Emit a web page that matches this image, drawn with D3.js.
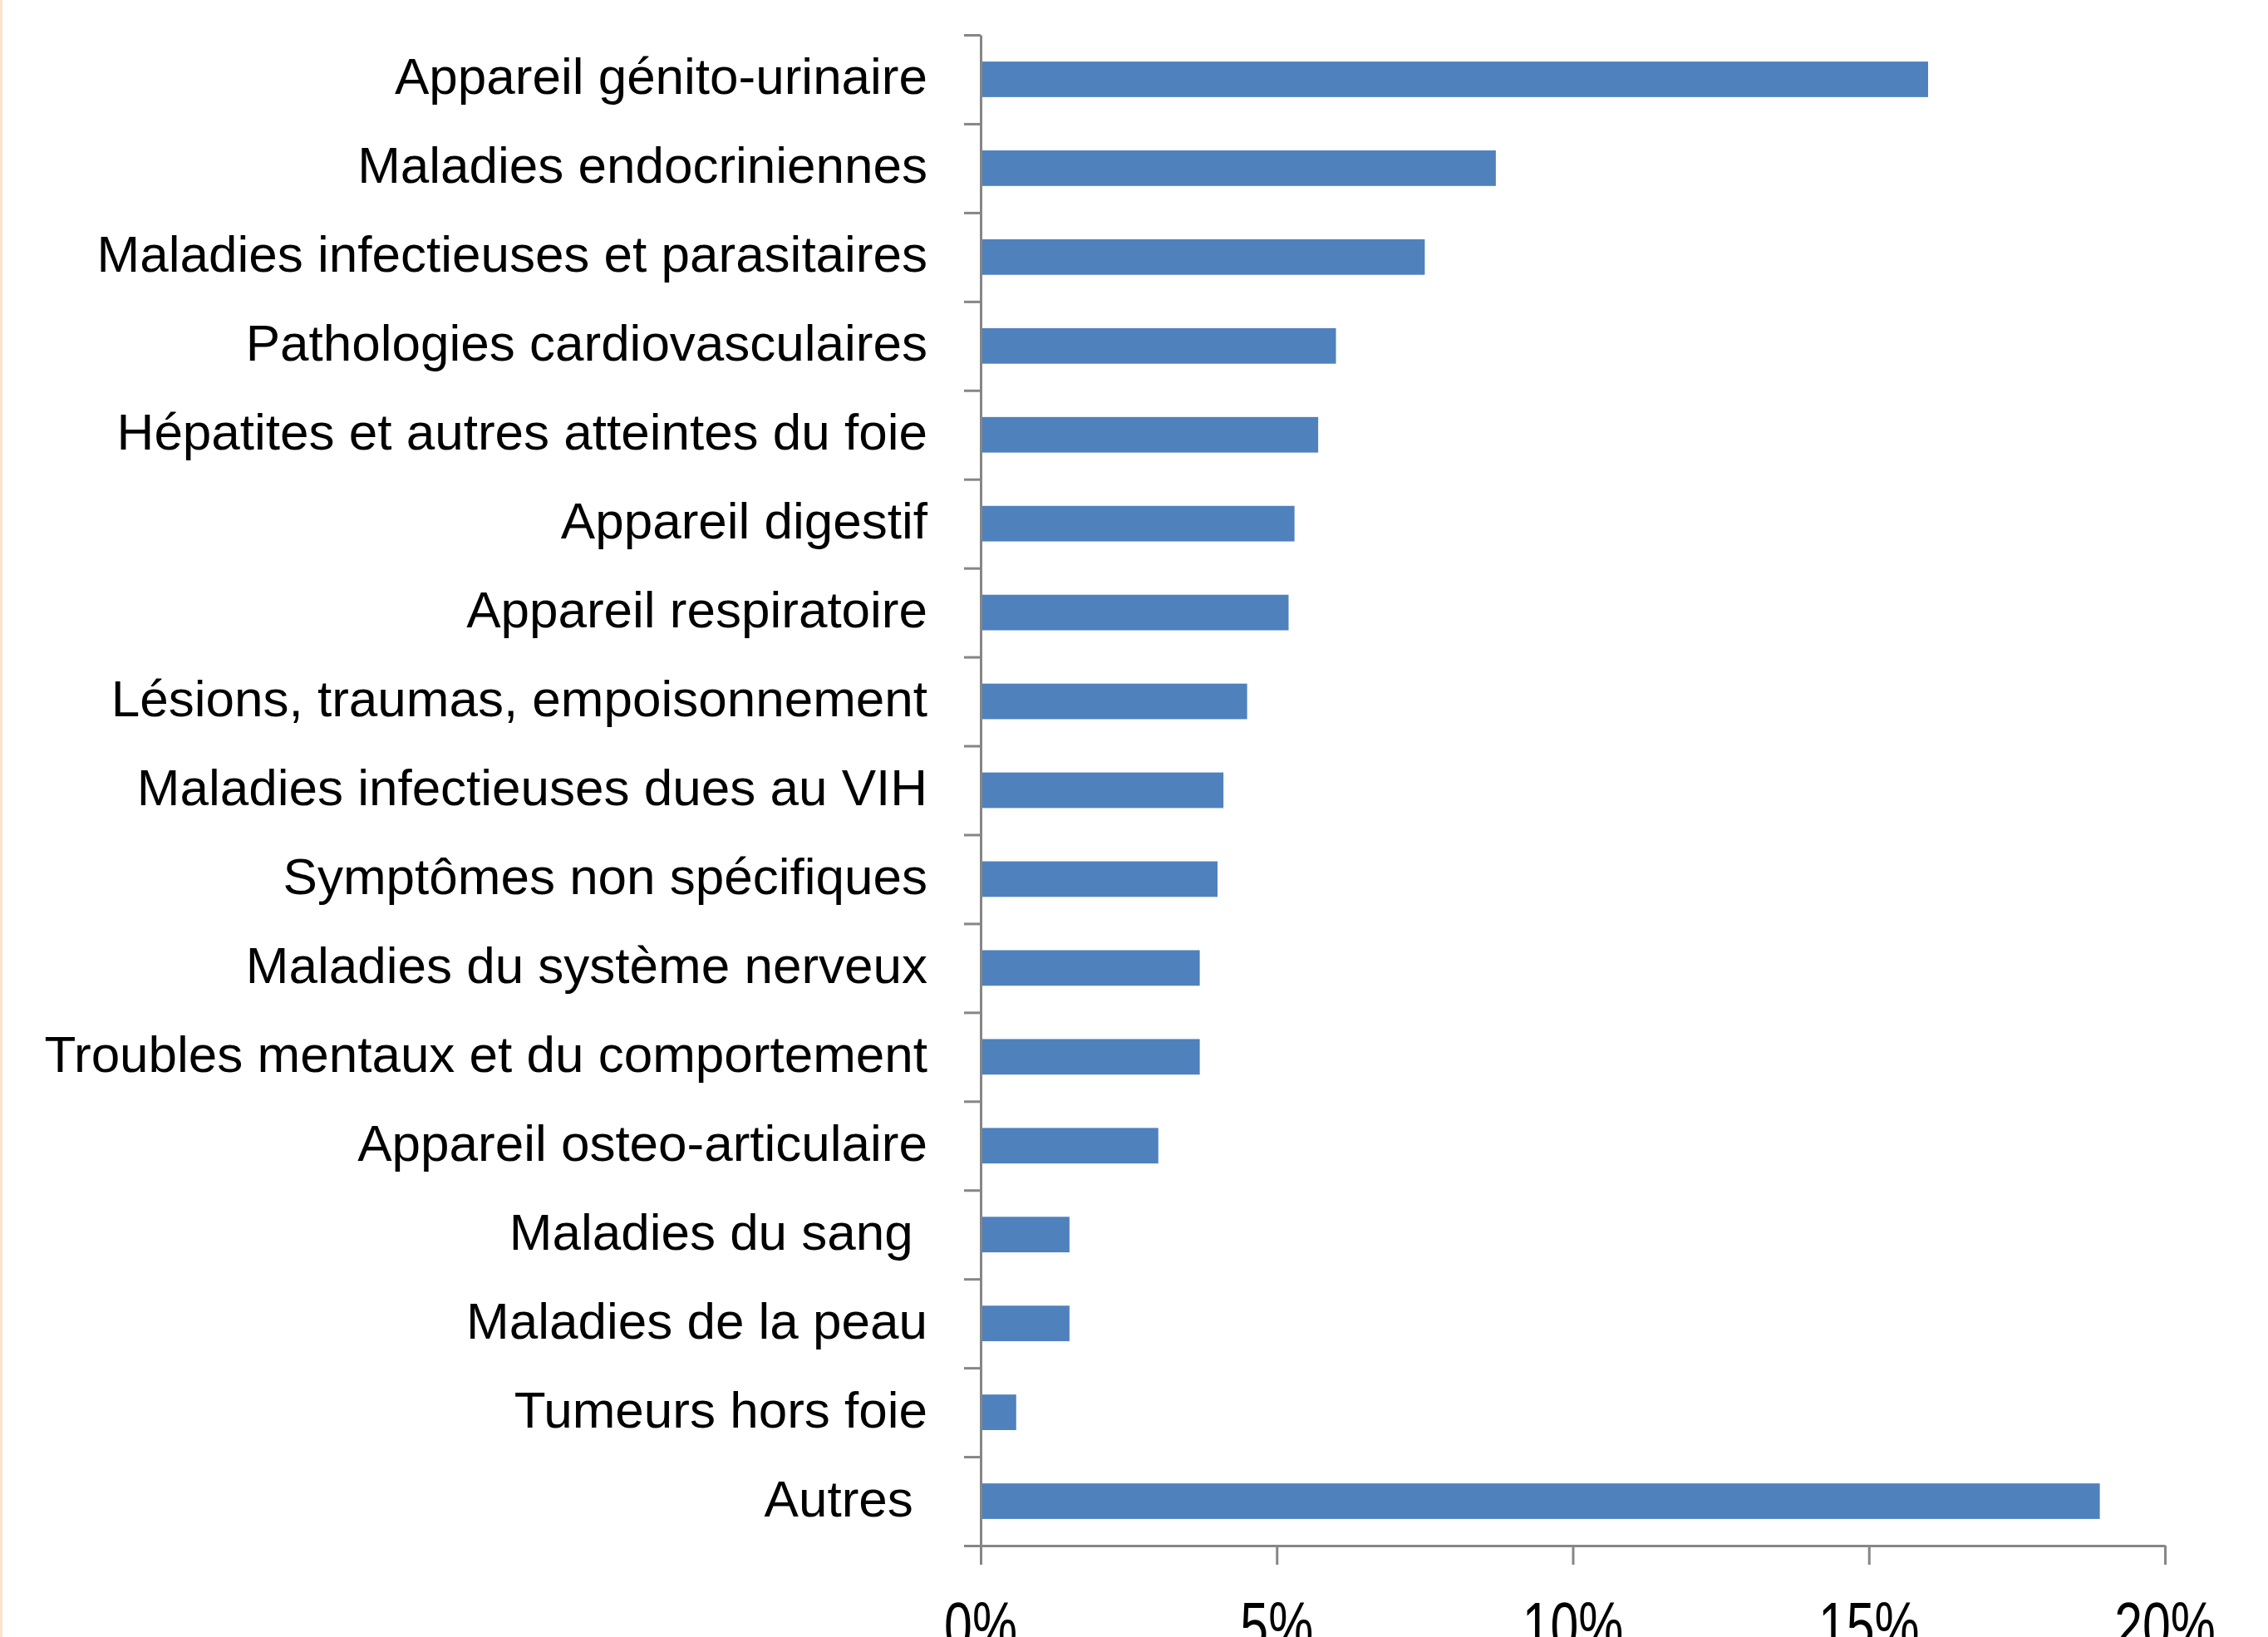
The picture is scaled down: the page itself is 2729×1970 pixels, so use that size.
<!DOCTYPE html>
<html><head><meta charset="utf-8">
<script src="https://cdn.jsdelivr.net/npm/d3@7"></script>
<style>html,body{margin:0;padding:0;background:#fff;overflow:hidden}</style>
</head><body>
<script>
const categories = [
  "Appareil génito-urinaire",
  "Maladies endocriniennes",
  "Maladies infectieuses et parasitaires",
  "Pathologies cardiovasculaires",
  "Hépatites et autres atteintes du foie",
  "Appareil digestif",
  "Appareil respiratoire",
  "Lésions, traumas, empoisonnement",
  "Maladies infectieuses dues au VIH",
  "Symptômes non spécifiques",
  "Maladies du système nerveux",
  "Troubles mentaux et du comportement",
  "Appareil osteo-articulaire",
  "Maladies du sang ",
  "Maladies de la peau",
  "Tumeurs hors foie",
  "Autres "
];
const values = [16.0, 8.7, 7.5, 6.0, 5.7, 5.3, 5.2, 4.5, 4.1, 4.0, 3.7, 3.7, 3.0, 1.5, 1.5, 0.6, 18.9];
const xTicks = [0, 5, 10, 15, 20];
const xTickLabels = ["0%", "5%", "10%", "15%", "20%"];

const W = 2729, H = 1970;
const mLeft = 1180, mRight = 2605, mTop = 42, mBottom = 1860;
const axisColor = "#868686";
const barColor = "#4F81BD";

const svg = d3.select("body").append("svg").attr("width", W).attr("height", H);
svg.append("rect").attr("width", W).attr("height", H).attr("fill", "#fff");
svg.append("rect").attr("x", 0).attr("y", 0).attr("width", 3).attr("height", H).attr("fill", "#FBE3CC");

const x = d3.scaleLinear().domain([0, 20]).range([mLeft, mRight]);
const y = d3.scaleBand().domain(categories).range([mTop, mBottom]).paddingInner(0.6).paddingOuter(0.3);
const yb = d3.scaleLinear().domain([0, categories.length]).range([mTop, mBottom]);

// bars
svg.append("g").selectAll("rect").data(values).join("rect")
  .attr("x", x(0))
  .attr("y", (d, i) => y(categories[i]))
  .attr("width", d => x(d) - x(0))
  .attr("height", y.bandwidth())
  .attr("fill", barColor);

// y axis boundary ticks
const gy = svg.append("g").attr("transform", `translate(${mLeft},0)`)
  .call(d3.axisLeft(yb).tickValues(d3.range(categories.length + 1)).tickFormat("").tickSize(20).tickSizeOuter(0));
gy.selectAll("path,line").attr("stroke", axisColor).attr("stroke-width", 3);

// category labels
svg.append("g").selectAll("text").data(categories).join("text")
  .attr("x", mLeft - 64)
  .attr("y", d => y(d) + y.bandwidth() / 2)
  .attr("dy", "0.29em")
  .attr("text-anchor", "end")
  .style("white-space", "pre")
  .attr("font-family", "'Liberation Sans', Arial, sans-serif")
  .attr("font-size", 62)
  .attr("fill", "#000")
  .text(d => d);

// x axis
const gx = svg.append("g").attr("transform", `translate(0,${mBottom})`)
  .call(d3.axisBottom(x).tickValues(xTicks).tickFormat("").tickSize(23).tickSizeOuter(0));
gx.selectAll("path,line").attr("stroke", axisColor).attr("stroke-width", 3);

// x tick labels (condensed)
svg.append("g").selectAll("text").data(xTicks).join("text")
  .attr("transform", (d) => `translate(${x(d)},${mBottom + 124}) scale(0.76,1)`)
  .attr("text-anchor", "middle")
  .attr("font-family", "'Liberation Sans', Arial, sans-serif")
  .attr("font-size", 80)
  .attr("fill", "#000")
  .text((d, i) => xTickLabels[i]);
</script>
</body></html>
